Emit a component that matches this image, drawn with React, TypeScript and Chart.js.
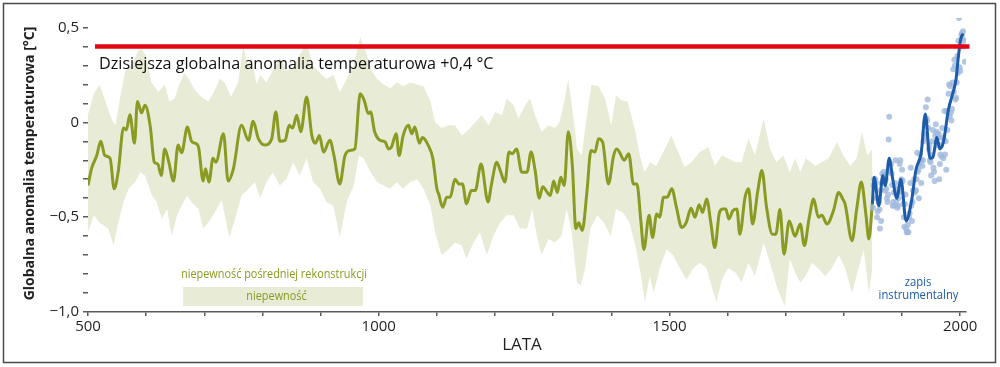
import React, { useEffect, useRef } from "react";
import { Chart, registerables } from "chart.js";

Chart.register(...registerables);

// ---------- DATA ----------
const RECON_YEARS = [
  500, 506, 515, 522, 529, 538, 545, 552, 561, 566, 572, 580, 585, 592, 598, 607, 614, 620, 626, 632,
  639, 647, 655, 661, 671, 678, 684, 690, 698, 702, 708, 715, 720, 733, 741, 750, 764, 776, 784, 793,
  804, 816, 823, 830, 839, 846, 852, 859, 866, 876, 885, 891, 898, 905, 916, 923, 933, 942, 951, 959,
  968, 975, 982, 986, 993, 1002, 1011, 1017, 1022, 1030, 1035, 1042, 1051, 1057, 1062, 1070, 1075, 1085, 1093, 1100,
  1103, 1110, 1117, 1123, 1131, 1138, 1144, 1151, 1159, 1166, 1176, 1188, 1194, 1203, 1209, 1217, 1224, 1230, 1237, 1246,
  1255, 1262, 1269, 1276, 1282, 1290, 1295, 1301, 1307, 1313, 1319, 1326, 1333, 1339, 1344, 1350, 1358, 1365, 1372, 1378,
  1385, 1395, 1404, 1409, 1414, 1422, 1430, 1438, 1444, 1451, 1456, 1465, 1471, 1478, 1483, 1490, 1496, 1504, 1512, 1521,
  1529, 1537, 1544, 1551, 1557, 1564, 1571, 1578, 1586, 1592, 1597, 1602, 1609, 1616, 1621, 1630, 1636, 1643, 1652, 1659,
  1667, 1677, 1683, 1690, 1697, 1706, 1716, 1725, 1732, 1740, 1748, 1756, 1762, 1771, 1782, 1791, 1798, 1802, 1814, 1822,
  1830, 1838, 1843, 1849,
];
const RECON_VALUES = [
  -0.333, -0.245, -0.175, -0.1, -0.175, -0.19, -0.35, -0.26, -0.03, -0.04, 0.04, -0.11, 0.11, 0.05, 0.09, -0.02, -0.21, -0.22, -0.28, -0.14,
  -0.21, -0.31, -0.12, -0.16, -0.025, -0.1, -0.11, -0.13, -0.31, -0.245, -0.315, -0.19, -0.21, -0.06, -0.31, -0.245, -0.016, -0.095, 0.005, -0.086,
  -0.12, -0.086, 0.055, -0.1, -0.095, -0.016, -0.03, 0.037, -0.05, 0.134, -0.07, -0.11, -0.07, -0.157, -0.095, -0.175, -0.325, -0.175, -0.148, -0.14,
  0.15, 0.116, 0.046, 0.055, -0.05, -0.095, -0.104, -0.14, -0.13, -0.06, -0.175, -0.07, -0.016, -0.06, -0.025, -0.11, -0.08, -0.12, -0.19, -0.35,
  -0.377, -0.448, -0.395, -0.395, -0.3, -0.325, -0.325, -0.43, -0.36, -0.36, -0.22, -0.42, -0.325, -0.21, -0.254, -0.315, -0.157, -0.166, -0.14, -0.263,
  -0.263, -0.157, -0.254, -0.4, -0.34, -0.37, -0.386, -0.31, -0.37, -0.29, -0.333, -0.05, -0.23, -0.56, -0.53, -0.57, -0.37, -0.148, -0.157, -0.086,
  -0.104, -0.325, -0.175, -0.14, -0.157, -0.2, -0.166, -0.325, -0.325, -0.527, -0.67, -0.49, -0.607, -0.483, -0.5, -0.395, -0.395, -0.35, -0.448, -0.554,
  -0.527, -0.453, -0.5, -0.435, -0.475, -0.404, -0.527, -0.66, -0.475, -0.457, -0.457, -0.51, -0.466, -0.457, -0.59, -0.395, -0.35, -0.536, -0.36, -0.254,
  -0.448, -0.59, -0.59, -0.46, -0.695, -0.52, -0.6, -0.536, -0.65, -0.51, -0.404, -0.5, -0.49, -0.536, -0.466, -0.37, -0.404, -0.43, -0.624, -0.457,
  -0.315, -0.49, -0.615, -0.43,
];

const UPPER_YEARS = [
  500, 510, 520, 530, 540, 547, 555, 564, 575, 585, 591, 600, 609, 621, 632, 640, 649, 658, 666, 675,
  684, 695, 707, 715, 727, 735, 746, 758, 767, 775, 781, 790, 796, 807, 822, 830, 842, 853, 864, 876,
  887, 899, 910, 922, 933, 945, 957, 968, 980, 988, 997, 1008, 1020, 1031, 1042, 1054, 1066, 1077, 1089, 1097,
  1108, 1120, 1131, 1143, 1154, 1166, 1177, 1189, 1200, 1212, 1220, 1232, 1240, 1252, 1260, 1269, 1280, 1292, 1303, 1311,
  1320, 1326, 1333, 1341, 1349, 1358, 1366, 1378, 1389, 1400, 1408, 1417, 1428, 1440, 1449, 1457, 1467, 1477, 1492, 1503,
  1515, 1526, 1538, 1552, 1567, 1578, 1590, 1601, 1613, 1624, 1636, 1647, 1662, 1673, 1684, 1696, 1707, 1716, 1725, 1734,
  1743, 1751, 1762, 1774, 1788, 1799, 1811, 1822, 1831, 1840, 1849,
];
const UPPER_VALUES = [
  0.04, 0.15, 0.2, 0.11, 0.02, -0.016, 0.125, 0.27, 0.3, 0.37, 0.39, 0.35, 0.21, 0.16, 0.2, 0.11, 0.125, 0.21, 0.26, 0.22,
  0.17, 0.134, 0.11, 0.15, 0.23, 0.21, 0.134, 0.21, 0.4, 0.3, 0.345, 0.2, 0.25, 0.21, 0.3, 0.34, 0.27, 0.29, 0.355, 0.42,
  0.3, 0.26, 0.23, 0.25, 0.16, 0.23, 0.3, 0.45, 0.355, 0.27, 0.23, 0.2, 0.18, 0.21, 0.19, 0.21, 0.2, 0.19, 0.11, 0.0,
  -0.03, -0.016, -0.016, -0.07, -0.04, 0.0, 0.037, -0.016, 0.055, 0.037, 0.125, 0.09, 0.02, 0.09, 0.125, 0.037, -0.05, -0.016, -0.03, 0.0,
  0.125, 0.23, 0.07, -0.14, -0.175, 0.037, 0.2, 0.19, 0.125, -0.016, 0.143, 0.116, 0.11, -0.03, -0.175, -0.263, -0.21, -0.23, -0.14, -0.07,
  -0.157, -0.236, -0.21, -0.157, -0.13, -0.23, -0.175, -0.19, -0.21, -0.21, -0.086, -0.175, 0.02, -0.14, -0.21, -0.175, -0.263, -0.19, -0.263, -0.19,
  -0.21, -0.23, -0.21, -0.19, -0.104, -0.175, -0.23, -0.19, -0.05, -0.175, -0.14,
];

const LOWER_YEARS = [
  500, 510, 520, 535, 544, 552, 561, 570, 581, 590, 598, 610, 618, 627, 636, 644, 653, 661, 670, 678,
  690, 698, 707, 718, 730, 743, 753, 764, 776, 787, 796, 807, 818, 830, 841, 853, 864, 876, 887, 899,
  910, 922, 933, 945, 957, 966, 974, 986, 997, 1008, 1020, 1031, 1042, 1054, 1066, 1077, 1089, 1097, 1108, 1120,
  1131, 1143, 1151, 1163, 1174, 1186, 1197, 1209, 1220, 1232, 1243, 1255, 1264, 1272, 1280, 1292, 1303, 1314, 1323, 1332,
  1341, 1347, 1355, 1364, 1376, 1387, 1399, 1408, 1420, 1431, 1443, 1451, 1458, 1466, 1473, 1483, 1495, 1506, 1518, 1529,
  1541, 1552, 1564, 1572, 1581, 1590, 1601, 1613, 1624, 1636, 1647, 1662, 1673, 1684, 1698, 1707, 1716, 1725, 1734, 1745,
  1756, 1768, 1779, 1791, 1802, 1814, 1825, 1834, 1843, 1849,
];
const LOWER_VALUES = [
  -0.58, -0.49, -0.53, -0.56, -0.65, -0.53, -0.42, -0.35, -0.315, -0.263, -0.28, -0.386, -0.42, -0.51, -0.457, -0.6, -0.49, -0.44, -0.386, -0.42,
  -0.457, -0.56, -0.53, -0.475, -0.41, -0.607, -0.51, -0.386, -0.35, -0.315, -0.4, -0.315, -0.263, -0.333, -0.3, -0.21, -0.28, -0.19, -0.315, -0.35,
  -0.42, -0.44, -0.607, -0.42, -0.333, -0.175, -0.19, -0.263, -0.315, -0.333, -0.35, -0.315, -0.35, -0.315, -0.3, -0.35, -0.44, -0.58, -0.7, -0.67,
  -0.633, -0.65, -0.72, -0.633, -0.58, -0.7, -0.6, -0.527, -0.49, -0.49, -0.56, -0.56, -0.457, -0.6, -0.7, -0.615, -0.633, -0.6, -0.457, -0.58,
  -0.845, -0.86, -0.77, -0.56, -0.49, -0.527, -0.6, -0.457, -0.475, -0.527, -0.67, -0.81, -0.95, -0.81, -0.9, -0.77, -0.67, -0.7, -0.77, -0.83,
  -0.77, -0.74, -0.77, -0.86, -0.95, -0.83, -0.77, -0.79, -0.845, -0.74, -0.81, -0.633, -0.74, -0.86, -0.97, -0.72, -0.79, -0.845, -0.81, -0.74,
  -0.77, -0.81, -0.77, -0.7, -0.77, -0.9, -0.77, -0.67, -0.9, -0.77,
];

const INSTR_YEARS = [
  1849, 1852, 1860, 1867, 1871, 1878, 1884, 1891, 1898, 1907, 1916, 1924, 1933, 1940, 1948, 1953, 1960, 1965, 1971, 1980,
  1988, 1993, 1997, 2001, 2005,
];
const INSTR_SMOOTH = [
  -0.43, -0.29, -0.44, -0.28, -0.335, -0.19, -0.3, -0.4, -0.3, -0.52, -0.42, -0.25, -0.16, 0.044, -0.19, -0.185, -0.08, -0.14, -0.106, 0.07,
  0.16, 0.23, 0.35, 0.44, 0.467,
];

const ANNUAL_START_YEAR = 1850;
const ANNUAL_VALUES = [
  -0.45, -0.33, -0.3, -0.34, -0.3, -0.32, -0.4, -0.5, -0.47, -0.4,
  -0.42, -0.46, -0.56, -0.36, -0.52, -0.32, -0.27, -0.31, -0.28, -0.26,
  -0.3, -0.36, -0.3, -0.35, -0.4, -0.42, -0.38, -0.09, 0.03, -0.25,
  -0.26, -0.22, -0.27, -0.33, -0.44, -0.42, -0.37, -0.44, -0.32, -0.2,
  -0.42, -0.35, -0.45, -0.44, -0.4, -0.37, -0.22, -0.2, -0.36, -0.3,
  -0.25, -0.31, -0.43, -0.5, -0.55, -0.43, -0.38, -0.56, -0.58, -0.58,
  -0.54, -0.58, -0.5, -0.48, -0.32, -0.24, -0.44, -0.52, -0.42, -0.36,
  -0.36, -0.3, -0.37, -0.36, -0.36, -0.3, -0.16, -0.26, -0.25, -0.4,
  -0.22, -0.17, -0.2, -0.32, -0.2, -0.23, -0.2, -0.1, -0.06, -0.08,
  0.0, 0.08, 0.02, 0.01, 0.12, -0.03, -0.14, -0.12, -0.2, -0.21,
  -0.28, -0.17, -0.1, -0.04, -0.24, -0.26, -0.31, -0.07, -0.01, -0.05,
  -0.12, -0.06, -0.08, -0.06, -0.3, -0.22, -0.17, -0.12, -0.18, -0.03,
  -0.08, -0.19, -0.09, 0.06, -0.17, -0.1, -0.25, 0.06, -0.04, 0.05,
  0.15, 0.2, 0.03, 0.19, 0.05, 0.01, 0.07, 0.21, 0.28, 0.16,
  0.33, 0.3, 0.12, 0.13, 0.21, 0.35, 0.26, 0.43, 0.55, 0.29,
  0.27, 0.4, 0.46, 0.47, 0.44, 0.48, 0.43, 0.4, 0.32,
];

const TODAY_YEARS = [512, 2016];
const TODAY_VALUE = 0.4;

const X_TICKS = [500, 600, 700, 800, 900, 1000, 1100, 1200, 1300, 1400, 1500, 1600, 1700, 1800, 1900, 2000];
const X_LABELED = [500, 1000, 1500, 2000];
const Y_TICKS = [-1.0, -0.9, -0.8, -0.7, -0.6, -0.5, -0.4, -0.3, -0.2, -0.1, 0, 0.1, 0.2, 0.3, 0.4, 0.5];
const Y_LABEL_VALUES = [0.5, 0, -0.5, -1.0];
const Y_LABEL_TEXTS = ["0,5", "0", "−0,5", "−1,0"];

const TODAY_LABEL = "Dzisiejsza globalna anomalia temperaturowa +0,4 °C";
const Y_TITLE = "Globalna anomalia temperaturowa [°C]";
const X_TITLE = "LATA";
const LEGEND_LINE = "niepewność pośredniej rekonstrukcji";
const LEGEND_BAND = "niepewność";
const INSTR_LABEL = ["zapis", "instrumentalny"];

// ---------- STYLE ----------
const FONT = '"Open Sans", "Noto Sans", sans-serif';
const OLIVE = "#8a9a22";
const BAND = "#e8ebd6";
const BLUE = "#1d5ca9";
const DOT = "rgba(160,185,220,0.8)";
const RED = "#e30613";
const AXIS = "#58595b";
const TEXT = "#231f20";

const pairs = (xs: number[], ys: number[]) => xs.map((x, i) => ({ x, y: ys[i] }));

// draw text horizontally condensed (the original uses a narrow humanist face)
function condensedText(ctx: CanvasRenderingContext2D, text: string, x: number, y: number, sx: number) {
  ctx.save();
  ctx.translate(x, y);
  ctx.scale(sx, 1);
  ctx.fillText(text, 0, 0);
  ctx.restore();
}

const annotationPlugin = {
  id: "annotations",
  afterDraw(chart: any) {
    const ctx = chart.ctx as CanvasRenderingContext2D;
    ctx.save();
    // outer frame
    ctx.strokeStyle = "#4a4a4a";
    ctx.lineWidth = 1.5;
    ctx.strokeRect(3.5, 3.5, 992, 359);

    // today label
    ctx.fillStyle = "#111";
    ctx.font = `16px ${FONT}`;
    ctx.textAlign = "left";
    ctx.textBaseline = "alphabetic";
    condensedText(ctx, TODAY_LABEL, 99, 68.5, 1.01);

    // legend
    ctx.fillStyle = BAND;
    ctx.fillRect(183, 287, 180, 19);
    ctx.fillStyle = OLIVE;
    ctx.font = `12.5px ${FONT}`;
    ctx.textAlign = "center";
    ctx.textBaseline = "middle";
    condensedText(ctx, LEGEND_LINE, 274, 274, 0.87);
    condensedText(ctx, LEGEND_BAND, 276.5, 296.5, 0.87);

    // instrumental label
    ctx.fillStyle = BLUE;
    condensedText(ctx, INSTR_LABEL[0], 918, 282, 0.9);
    condensedText(ctx, INSTR_LABEL[1], 918.5, 295, 0.9);

    // x title
    ctx.fillStyle = TEXT;
    ctx.font = `17px ${FONT}`;
    ctx.fillText(X_TITLE, 522, 345);

    // y title
    ctx.translate(30, 163.5);
    ctx.rotate(-Math.PI / 2);
    ctx.font = `bold 14px ${FONT}`;
    ctx.fillText(Y_TITLE, 0, 0);
    ctx.restore();
  },
};

export default function App() {
  const ref = useRef<HTMLCanvasElement | null>(null);

  useEffect(() => {
    document.body.style.margin = "0";
    const canvas = ref.current;
    if (!canvas) return;
    const annual = ANNUAL_VALUES.map((y, i) => ({ x: ANNUAL_START_YEAR + i, y }));
    const chart = new Chart(canvas, {
      type: "line",
      data: {
        datasets: [
          {
            label: "upper",
            data: pairs(UPPER_YEARS, UPPER_VALUES),
            borderWidth: 0,
            pointRadius: 0,
            fill: "+1",
            backgroundColor: BAND,
            borderColor: BAND,
            tension: 0,
            order: 6,
          },
          {
            label: "lower",
            data: pairs(LOWER_YEARS, LOWER_VALUES),
            borderWidth: 0,
            pointRadius: 0,
            fill: false,
            borderColor: BAND,
            tension: 0,
            order: 7,
          },
          {
            label: "recon",
            data: pairs(RECON_YEARS, RECON_VALUES),
            borderColor: OLIVE,
            borderWidth: 3,
            pointRadius: 0,
            cubicInterpolationMode: "monotone",
            fill: false,
            order: 4,
          },
          {
            label: "annual",
            data: annual,
            showLine: false,
            pointRadius: 3,
            pointBorderWidth: 0,
            pointBackgroundColor: DOT,
            order: 3,
          },
          {
            label: "instr",
            data: pairs(INSTR_YEARS, INSTR_SMOOTH),
            borderColor: BLUE,
            borderWidth: 3,
            pointRadius: 0,
            cubicInterpolationMode: "monotone",
            fill: false,
            order: 2,
          },
          {
            label: "today",
            data: TODAY_YEARS.map((x) => ({ x, y: TODAY_VALUE })),
            borderColor: RED,
            borderWidth: 4.5,
            pointRadius: 0,
            fill: false,
            clip: false as any,
            order: 1,
          },
        ],
      },
      options: {
        animation: false,
        responsive: false,
        parsing: false as any,
        layout: { padding: { left: 0, right: 34, top: 18, bottom: 0 } },
        plugins: { legend: { display: false }, tooltip: { enabled: false } },
        scales: {
          x: {
            type: "linear",
            min: 500,
            max: 2010,
            afterBuildTicks: (s: any) => {
              s.ticks = X_TICKS.map((value) => ({ value }));
            },
            afterFit: (s: any) => {
              s.height = 55;
            },
            ticks: {
              autoSkip: false,
              maxRotation: 0,
              padding: 2,
              color: TEXT,
              font: { family: FONT, size: 15 },
              callback: (v: any) => (X_LABELED.includes(Number(v)) ? String(v) : ""),
            },
            grid: { drawOnChartArea: false, drawTicks: true, tickLength: 4, color: AXIS, lineWidth: 1.5 },
            border: { display: true, color: AXIS, width: 1.5 },
          },
          y: {
            type: "linear",
            min: -1.0,
            max: 0.55,
            afterBuildTicks: (s: any) => {
              s.ticks = Y_TICKS.map((value) => ({ value }));
            },
            afterFit: (s: any) => {
              s.width = 88;
            },
            ticks: {
              autoSkip: false,
              padding: 4,
              color: TEXT,
              font: { family: FONT, size: 15 },
              callback: (v: any) => {
                const idx = Y_LABEL_VALUES.findIndex((t) => Math.abs(t - Number(v)) < 1e-6);
                return idx >= 0 ? Y_LABEL_TEXTS[idx] : "";
              },
            },
            grid: { drawOnChartArea: false, drawTicks: true, tickLength: 5, color: AXIS, lineWidth: 1.5 },
            border: { display: false },
          },
        },
      },
      plugins: [annotationPlugin],
    } as any);
    return () => chart.destroy();
  }, []);

  return (
    <div style={{ position: "absolute", left: 0, top: 0, width: 1000, height: 367, background: "#fff" }}>
      <canvas ref={ref} width={1000} height={367} style={{ display: "block" }} />
    </div>
  );
}
